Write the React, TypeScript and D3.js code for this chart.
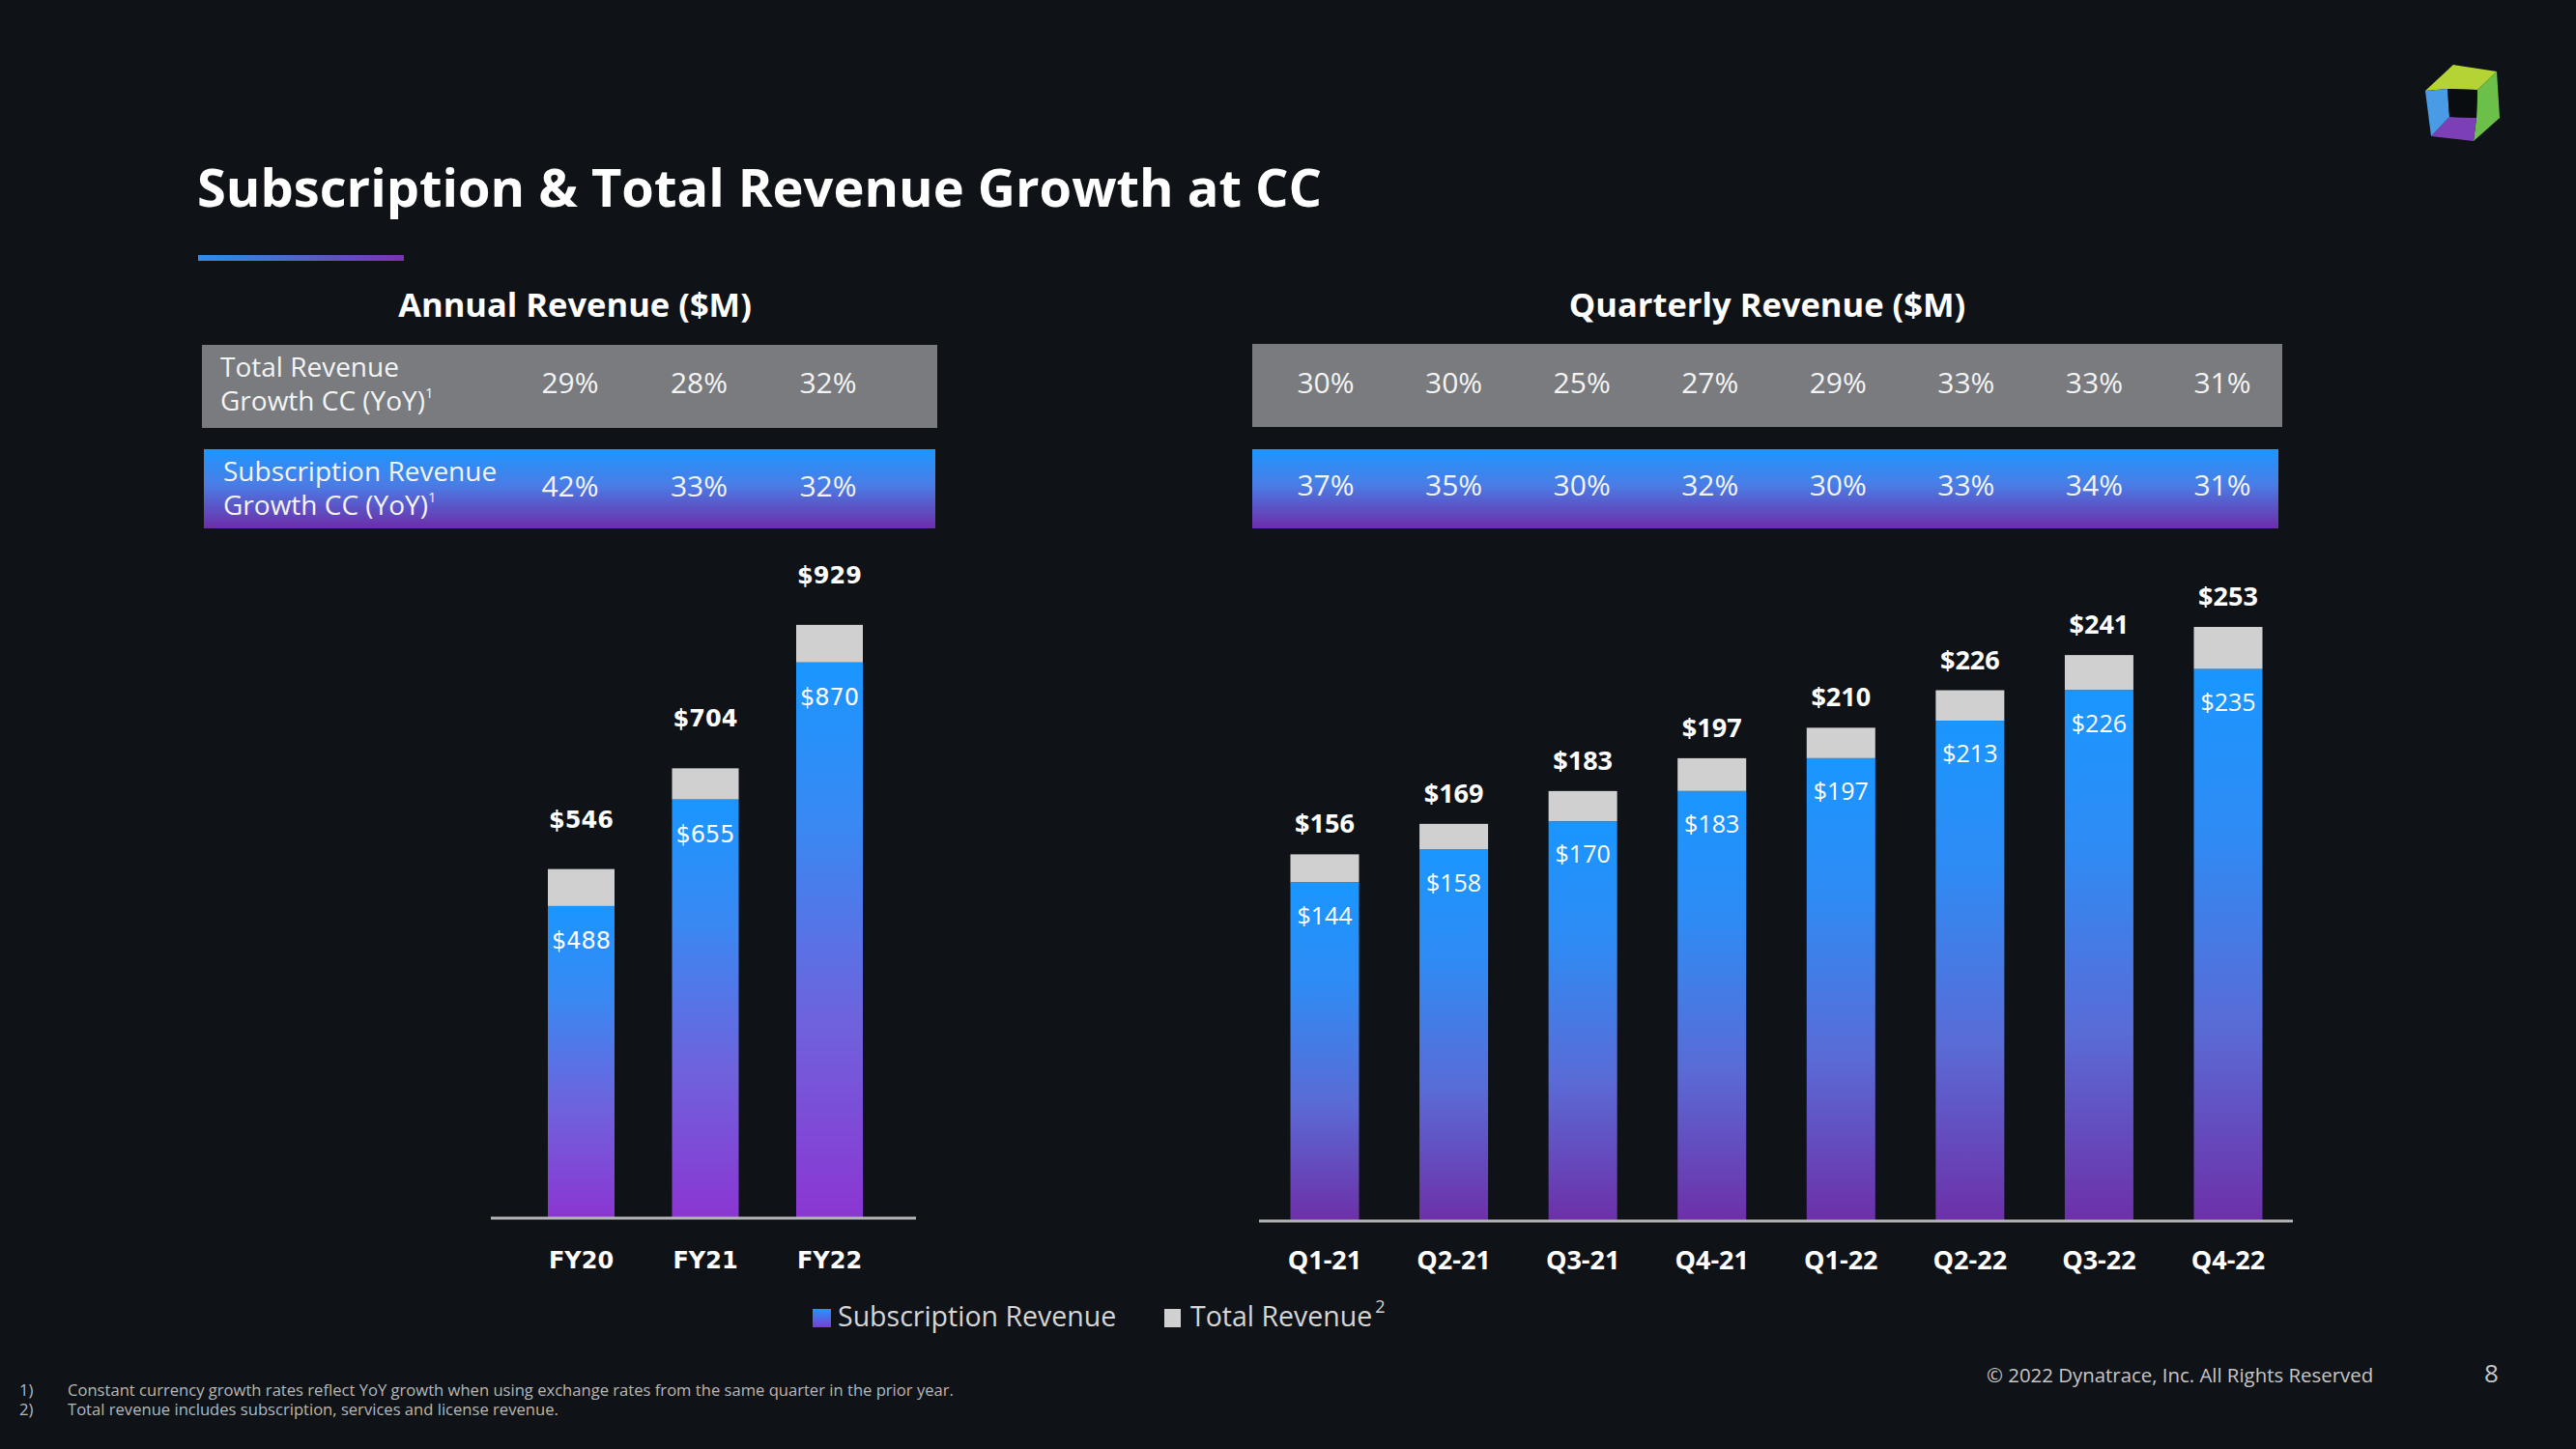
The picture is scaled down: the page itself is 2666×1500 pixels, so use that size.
import React from "react";
import * as d3 from "d3";

const years = ["FY20", "FY21", "FY22"];
const annualTotal = [546, 704, 929];
const annualSub = [488, 655, 870];
const annualTotalGrowth = [29, 28, 32];
const annualSubGrowth = [42, 33, 32];

const quarters = ["Q1-21", "Q2-21", "Q3-21", "Q4-21", "Q1-22", "Q2-22", "Q3-22", "Q4-22"];
const quarterlyTotal = [156, 169, 183, 197, 210, 226, 241, 253];
const quarterlySub = [144, 158, 170, 183, 197, 213, 226, 235];
const quarterlyTotalGrowth = [30, 30, 25, 27, 29, 33, 33, 31];
const quarterlySubGrowth = [37, 35, 30, 32, 30, 33, 34, 31];

const W = 2666;
const H = 1500;
const BG = "#0f1318";
const OS = "'Open Sans', 'Noto Sans', sans-serif";
const DV = "'DejaVu Sans', Verdana, sans-serif";
const GREY_TOP = "#d0d0d0";

export default function App() {
  const ax = d3.scalePoint<string>().domain(years).range([601.5, 858.5]);
  const axCols = d3.scalePoint<string>().domain(years).range([590, 857]);
  const ay = d3.scaleLinear().domain([0, 1000]).range([1260, 600]);
  const aBW = 69;

  const qx = d3.scalePoint<string>().domain(quarters).range([1371, 2306]);
  const qCols = d3.scalePoint<string>().domain(quarters).range([1372, 2300]);
  const qy = d3.scaleLinear().domain([0, 260]).range([1263, 632]);
  const qBW = 71;

  const money = (v: number) => `$${v}`;
  const pct = (v: number) => `${v}%`;

  return (
    <svg
      width={W}
      height={H}
      viewBox={`0 0 ${W} ${H}`}
      style={{ position: "absolute", left: 0, top: 0, display: "block" }}
    >
      <defs>
        <linearGradient id="barA" x1="0" y1="0" x2="0" y2="1">
          <stop offset="0" stopColor="#1a96ff" />
          <stop offset="0.3" stopColor="#3a88f2" />
          <stop offset="0.65" stopColor="#6f62dc" />
          <stop offset="1" stopColor="#8b36d2" />
        </linearGradient>
        <linearGradient id="barQ" x1="0" y1="0" x2="0" y2="1">
          <stop offset="0" stopColor="#1a96ff" />
          <stop offset="0.3" stopColor="#2f8bf4" />
          <stop offset="0.65" stopColor="#5a6bd6" />
          <stop offset="1" stopColor="#6d30a8" />
        </linearGradient>
        <linearGradient id="rowBlue" x1="0" y1="0" x2="0" y2="1">
          <stop offset="0" stopColor="#1e96ff" />
          <stop offset="0.45" stopColor="#4a7de6" />
          <stop offset="1" stopColor="#6c2da8" />
        </linearGradient>
        <linearGradient id="underline" x1="0" y1="0" x2="1" y2="0">
          <stop offset="0" stopColor="#2a8ef0" />
          <stop offset="1" stopColor="#7a34aa" />
        </linearGradient>
        <linearGradient id="legendBlue" x1="0" y1="0" x2="0" y2="1">
          <stop offset="0" stopColor="#2196ff" />
          <stop offset="1" stopColor="#7a3fd0" />
        </linearGradient>
      </defs>

      <rect x={0} y={0} width={W} height={H} fill={BG} />

      {/* Title */}
      <text x={204} y={214} fontFamily={OS} fontWeight={700} fontSize={54.2} fill="#ffffff">
        Subscription &amp; Total Revenue Growth at CC
      </text>
      <rect x={205} y={264} width={213} height={6} fill="url(#underline)" />

      {/* Logo */}
      <g>
        <polygon points="2510,94 2539,67 2584,74 2564,93 2533,92" fill="#b5d334" />
        <polygon points="2584,74 2587,122 2560,146 2563,122 2564,93" fill="#6cc04a" />
        <polygon points="2535,121 2563,122 2560,146 2516,141" fill="#7c3fb6" />
        <polygon points="2510,94 2533,92 2535,121 2516,141" fill="#4a9be6" />
        <polygon points="2533,92 2564,93 2563,122 2535,121" fill="#0a0d10" />
      </g>

      {/* Section headings */}
      <text x={595} y={328} textAnchor="middle" fontFamily={OS} fontWeight={700} fontSize={34.5} fill="#ffffff">
        Annual Revenue ($M)
      </text>
      <text x={1829} y={328} textAnchor="middle" fontFamily={OS} fontWeight={700} fontSize={34.5} fill="#ffffff">
        Quarterly Revenue ($M)
      </text>

      {/* Annual growth table */}
      <rect x={209} y={357} width={761} height={86} fill="#797b7e" />
      <rect x={211} y={465} width={757} height={82} fill="url(#rowBlue)" />
      <text fontFamily={OS} fontSize={28} fill="#f4f4f4">
        <tspan x={228} y={390}>Total Revenue</tspan>
        <tspan x={228} y={425}>Growth CC (YoY)</tspan>
        <tspan fontSize={15} dy={-13}>1</tspan>
      </text>
      <text fontFamily={OS} fontSize={28} fill="#f4f4f4">
        <tspan x={231} y={498}>Subscription Revenue</tspan>
        <tspan x={231} y={533}>Growth CC (YoY)</tspan>
        <tspan fontSize={15} dy={-13}>1</tspan>
      </text>
      {years.map((y, i) => (
        <g key={`ag${y}`}>
          <text x={axCols(y)} y={407} textAnchor="middle" fontFamily={OS} fontSize={30} fill="#f4f4f4">
            {pct(annualTotalGrowth[i])}
          </text>
          <text x={axCols(y)} y={514} textAnchor="middle" fontFamily={OS} fontSize={30} fill="#f4f4f4">
            {pct(annualSubGrowth[i])}
          </text>
        </g>
      ))}

      {/* Quarterly growth table */}
      <rect x={1296} y={356} width={1066} height={86} fill="#797b7e" />
      <rect x={1296} y={465} width={1062} height={82} fill="url(#rowBlue)" />
      {quarters.map((q, i) => (
        <g key={`qg${q}`}>
          <text x={qCols(q)} y={407} textAnchor="middle" fontFamily={OS} fontSize={30} fill="#f4f4f4">
            {pct(quarterlyTotalGrowth[i])}
          </text>
          <text x={qCols(q)} y={513} textAnchor="middle" fontFamily={OS} fontSize={30} fill="#f4f4f4">
            {pct(quarterlySubGrowth[i])}
          </text>
        </g>
      ))}

      {/* Annual bars */}
      {years.map((y, i) => {
        const cx = ax(y) as number;
        const x0 = cx - aBW / 2;
        return (
          <g key={`ab${y}`}>
            <rect x={x0} y={ay(annualTotal[i])} width={aBW} height={ay(annualSub[i]) - ay(annualTotal[i])} fill={GREY_TOP} />
            <rect x={x0} y={ay(annualSub[i])} width={aBW} height={ay(0) - ay(annualSub[i])} fill="url(#barA)" />
            <text x={cx} y={ay(annualTotal[i]) - 43} textAnchor="middle" fontFamily={DV} fontWeight={700} fontSize={24} fill="#ffffff">
              {money(annualTotal[i])}
            </text>
            <text x={cx} y={ay(annualSub[i]) + 44} textAnchor="middle" fontFamily={DV} fontSize={24} fill="#ffffff">
              {money(annualSub[i])}
            </text>
            <text x={cx} y={1313} textAnchor="middle" fontFamily={DV} fontWeight={700} fontSize={24} fill="#ffffff">
              {y}
            </text>
          </g>
        );
      })}
      <line x1={508} x2={948} y1={ay(0) + 1} y2={ay(0) + 1} stroke="#b3b3b3" strokeWidth={3} />

      {/* Quarterly bars */}
      {quarters.map((q, i) => {
        const cx = qx(q) as number;
        const x0 = cx - qBW / 2;
        return (
          <g key={`qb${q}`}>
            <rect x={x0} y={qy(quarterlyTotal[i])} width={qBW} height={qy(quarterlySub[i]) - qy(quarterlyTotal[i])} fill={GREY_TOP} />
            <rect x={x0} y={qy(quarterlySub[i])} width={qBW} height={qy(0) - qy(quarterlySub[i])} fill="url(#barQ)" />
            <text x={cx} y={qy(quarterlyTotal[i]) - 22} textAnchor="middle" fontFamily={OS} fontWeight={700} fontSize={27} fill="#ffffff">
              {money(quarterlyTotal[i])}
            </text>
            <text x={cx} y={qy(quarterlySub[i]) + 43} textAnchor="middle" fontFamily={OS} fontSize={25} fill="#ffffff">
              {money(quarterlySub[i])}
            </text>
            <text x={cx} y={1314} textAnchor="middle" fontFamily={OS} fontWeight={700} fontSize={27} fill="#ffffff">
              {q}
            </text>
          </g>
        );
      })}
      <line x1={1303} x2={2373} y1={qy(0) + 1} y2={qy(0) + 1} stroke="#b3b3b3" strokeWidth={3} />

      {/* Legend */}
      <rect x={841} y={1355} width={19} height={19} fill="url(#legendBlue)" />
      <text x={867} y={1373} fontFamily={OS} fontSize={28.5} fill="#d6d6d6">Subscription Revenue</text>
      <rect x={1205} y={1355} width={17} height={19} fill={GREY_TOP} />
      <text x={1232} y={1373} fontFamily={OS} fontSize={28.5} fill="#d6d6d6">
        Total Revenue
        <tspan fontSize={18} dx={3} dy={-14}>2</tspan>
      </text>

      {/* Footnotes */}
      <text fontFamily={OS} fontSize={16.6} fill="#b8b8b8">
        <tspan x={20} y={1445}>1)</tspan>
        <tspan x={70} y={1445}>Constant currency growth rates reflect YoY growth when using exchange rates from the same quarter in the prior year.</tspan>
        <tspan x={20} y={1465}>2)</tspan>
        <tspan x={70} y={1465}>Total revenue includes subscription, services and license revenue.</tspan>
      </text>

      <text x={2056} y={1431} fontFamily={OS} fontSize={20.4} fill="#c6c6c6">
        © 2022 Dynatrace, Inc. All Rights Reserved
      </text>
      <text x={2571} y={1431} fontFamily={OS} fontSize={26} fill="#c6c6c6">8</text>
    </svg>
  );
}
